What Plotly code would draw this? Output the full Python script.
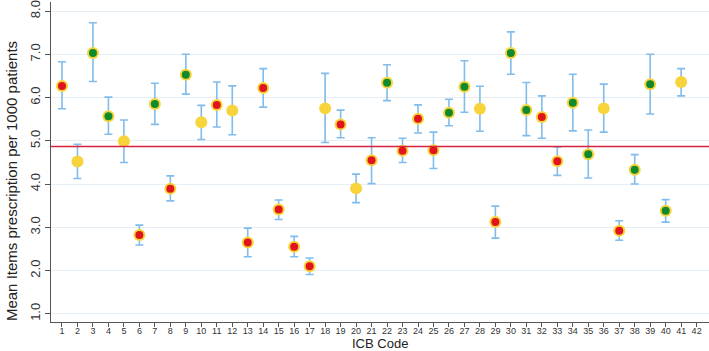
import plotly.graph_objects as go

icb = list(range(1, 42))
mean = [6.27, 4.52, 7.03, 5.57, 4.99, 2.82, 5.85, 3.89, 6.53, 5.43,
        5.83, 5.70, 2.65, 6.22, 3.41, 2.55, 2.10, 5.75, 5.38, 3.90,
        4.55, 6.34, 4.77, 5.51, 4.78, 5.65, 6.25, 5.74, 3.12, 7.03,
        5.71, 5.55, 4.53, 5.88, 4.69, 5.75, 2.92, 4.33, 6.31, 3.38, 6.36]
upper = [6.83, 4.92, 7.73, 6.01, 5.48, 3.05, 6.33, 4.19, 7.00, 5.82,
         6.36, 6.27, 2.98, 6.67, 3.63, 2.79, 2.29, 6.56, 5.71, 4.23,
         5.07, 6.76, 5.06, 5.83, 5.20, 5.96, 6.85, 6.26, 3.49, 7.52,
         6.35, 6.04, 4.86, 6.54, 5.25, 6.31, 3.15, 4.68, 7.00, 3.64, 6.67]
lower = [5.74, 4.13, 6.37, 5.15, 4.50, 2.59, 5.38, 3.61, 6.08, 5.03,
         5.32, 5.14, 2.32, 5.78, 3.18, 2.32, 1.91, 4.96, 5.07, 3.57,
         4.01, 5.93, 4.50, 5.18, 4.36, 5.35, 5.66, 5.22, 2.75, 6.54,
         5.12, 5.06, 4.20, 5.23, 4.14, 5.20, 2.70, 4.00, 5.62, 3.12, 6.04]
status = ["r", "y", "g", "g", "y", "r", "g", "r", "g", "y",
          "r", "y", "r", "r", "r", "r", "r", "y", "r", "y",
          "r", "g", "r", "r", "r", "g", "g", "y", "r", "g",
          "g", "r", "r", "g", "g", "y", "r", "g", "g", "g", "y"]
overall_mean = 4.87
x_ticks = list(range(1, 43))
y_ticks = [1, 2, 3, 4, 5, 6, 7, 8]

fig = go.Figure()
fig.add_trace(go.Scatter(
    x=icb, y=mean, mode="markers",
    marker=dict(color="#f7d43c", size=12, line=dict(width=0)),
    error_y=dict(type="data", symmetric=False,
                 array=[u - m for u, m in zip(upper, mean)],
                 arrayminus=[m - l for m, l in zip(mean, lower)],
                 color="#80bcec", thickness=1.6, width=4),
    showlegend=False))

for code, col in [("r", "#e0141c"), ("g", "#118a2c")]:
    xs = [x for x, s in zip(icb, status) if s == code]
    ys = [y for y, s in zip(mean, status) if s == code]
    fig.add_trace(go.Scatter(x=xs, y=ys, mode="markers",
                             marker=dict(color=col, size=8, line=dict(width=0)),
                             showlegend=False))

fig.add_hline(y=overall_mean, line=dict(color="#d8203f", width=1.5))

font = "Liberation Sans, Arial, sans-serif"
fig.update_layout(
    width=709, height=351,
    margin=dict(l=51, r=0, t=0, b=29),
    paper_bgcolor="white", plot_bgcolor="white",
    font=dict(family=font, color="#222"),
    xaxis=dict(range=[0.29, 42.8], tickvals=x_ticks, ticktext=[str(t) for t in x_ticks],
               tickfont=dict(size=9, color="#333"), ticks="outside", ticklen=4,
               tickcolor="#555", showline=True, linecolor="#555", linewidth=1.2,
               showgrid=False, zeroline=False, ticklabelstandoff=-4),
    yaxis=dict(range=[0.81, 8.21], tickvals=y_ticks, ticktext=[f"{t:.1f}" for t in y_ticks],
               tickangle=-90, tickfont=dict(size=13, color="#333"), ticks="outside",
               ticklen=5, tickcolor="#555", showline=True, linecolor="#555", linewidth=1.2,
               showgrid=True, gridcolor="#e6eff6", gridwidth=1, zeroline=False,
               ticklabeloverflow="allow"),
    annotations=[
        dict(text="ICB Code", xref="paper", yref="paper", x=0.5, y=-0.067,
             xanchor="center", yanchor="middle", showarrow=False,
             font=dict(size=13, color="#222")),
        dict(text="Mean Items prescription per 1000 patients", xref="paper", yref="paper",
             x=-0.061, y=0.44, xanchor="center", yanchor="middle", textangle=-90,
             showarrow=False, font=dict(size=15, color="#222")),
    ],
)

fig.write_html("out.html")
